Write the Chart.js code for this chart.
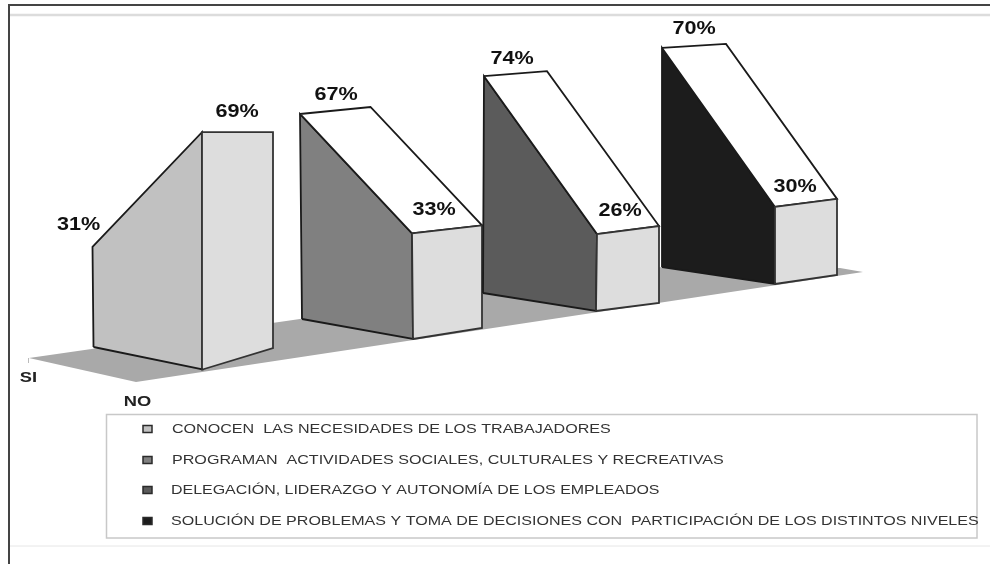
<!DOCTYPE html>
<html><head><meta charset="utf-8">
<style>html,body{margin:0;padding:0;background:#fff}#w{position:relative;width:990px;height:564px}canvas{display:block}</style>
<script src="https://cdn.jsdelivr.net/npm/chart.js@4/dist/chart.umd.min.js"></script>
</head><body><div id="w"><canvas id="c" width="990" height="564"></canvas></div>
<script>
// ---- data ----
const categories = [
  "CONOCEN  LAS NECESIDADES DE LOS TRABAJADORES",
  "PROGRAMAN  ACTIVIDADES SOCIALES, CULTURALES Y RECREATIVAS",
  "DELEGACIÓN, LIDERAZGO Y AUTONOMÍA DE LOS EMPLEADOS",
  "SOLUCIÓN DE PROBLEMAS Y TOMA DE DECISIONES CON  PARTICIPACIÓN DE LOS DISTINTOS NIVELES"
];
const depthLabels = ["SI", "NO"];
const si = [31, 67, 74, 70];
const no = [69, 33, 26, 30];

// ---- styles ----
const sideColors = ["#c1c1c1", "#808080", "#5b5b5b", "#1c1c1c"];
const frontColor = "#dddddd", topColor = "#ffffff", floorColor = "#a9a9a9";

// ---- projection of the 3-D scene on the page plane ----
const view = {
  catX: [93.5, 302, 483, 662], catY: [347, 319, 293, 267],
  depth: [[109,22.5],[111,20],[113,18],[113,17]],
  baseWidth: [[70.5,-21.5],[69,-11],[63,-8],[62,-9]],
  topFrontWidth: [[71,0],[70,-8],[62,-8],[62,-8]],
  topBackWidth: [[71,0],[70.5,-7],[63,-5],[64,-4]],
  unitSi: [3.23,3.06,2.93,3.13], unitNo: [3.44,3.2,2.96,2.57],
  leanSi: [-1,-2,1,0], leanNo: [-0.5,-1,1,0],
  floorCorners: [[29,358],[300,319],[662,267],[840,268],[863,272],[136,382]]
};
const pt = (a) => ({x:a[0], y:a[1]});
function prism(i){
  const A=[view.catX[i],view.catY[i]];
  const B=[A[0]+view.depth[i][0],A[1]+view.depth[i][1]];
  const C=[B[0]+view.baseWidth[i][0],B[1]+view.baseWidth[i][1]];
  const At=[A[0]+view.leanSi[i],A[1]-si[i]*view.unitSi[i]];
  const Bt=[B[0]+view.leanNo[i],B[1]-no[i]*view.unitNo[i]];
  const Ct=[Bt[0]+view.topFrontWidth[i][0],Bt[1]+view.topFrontWidth[i][1]];
  const Dt=[At[0]+view.topBackWidth[i][0],At[1]+view.topBackWidth[i][1]];
  return {A,B,C,At,Bt,Ct,Dt};
}
function face(label,poly,fill,line){
  const d=poly.concat([poly[0]]).map(pt);
  return {label,data:d,showLine:true,fill:'shape',backgroundColor:fill,borderColor:line,borderWidth:line==='transparent'?0:1.8,
          pointRadius:0,pointHoverRadius:0,tension:0,borderJoinStyle:'miter'};
}
const datasets=[face("piso",view.floorCorners,floorColor,'transparent')];
categories.forEach((c,i)=>{
  const p=prism(i);
  datasets.push(face(c+" lateral",[p.A,p.At,p.Bt,p.B],sideColors[i],"#1a1a1a"));
  if(i>0) datasets.push(face(c+" superior",[p.At,p.Dt,p.Ct,p.Bt],topColor,"#1a1a1a"));
  datasets.push(face(c+" frente",[p.B,p.Bt,p.Ct,p.C],frontColor,"#333333"));
});
datasets.forEach((d,k)=>{d.order=datasets.length-k;});

function stretched(ctx,text,x,y,font,sx,color,align){
  ctx.save();ctx.font=font;ctx.fillStyle=color;ctx.textBaseline='middle';ctx.textAlign=align||'left';
  ctx.translate(x,y);ctx.scale(sx,1);ctx.fillText(text,0,0);ctx.restore();
}
const labelOffsetsSi=[[-14,-22],[36,-18.5],[28,-17.5],[32,-18.5]];
const labelOffsetsNo=[[35,-20],[22,-23.5],[23,-23],[20,-19.5]];
const scenePlugin={id:'scene',
  beforeDatasetsDraw(chart){
    const {ctx,scales:{x,y}}=chart;
    const X=v=>x.getPixelForValue(v),Y=v=>y.getPixelForValue(v);
    ctx.save();
    ctx.strokeStyle='#dcdcdc';ctx.lineWidth=2.5;
    ctx.beginPath();ctx.moveTo(X(10),Y(15));ctx.lineTo(X(990),Y(15));ctx.stroke();
    ctx.lineWidth=1;ctx.strokeStyle='#e6e6e6';
    ctx.beginPath();ctx.moveTo(X(10),Y(546));ctx.lineTo(X(990),Y(546));ctx.stroke();
    ctx.strokeStyle='#444';ctx.lineWidth=2;
    ctx.beginPath();ctx.moveTo(X(9),Y(564));ctx.lineTo(X(9),Y(5));ctx.lineTo(X(990),Y(5));ctx.stroke();
    ctx.strokeStyle='#bbb';ctx.lineWidth=1;
    ctx.beginPath();ctx.moveTo(X(28.5),Y(358));ctx.lineTo(X(28.5),Y(363));ctx.stroke();
    ctx.restore();
  },
  afterDatasetsDraw(chart){
    const {ctx,scales:{x,y}}=chart;
    const pct='bold 18px "Liberation Sans"';
    categories.forEach((c,i)=>{
      const p=prism(i);
      const a=labelOffsetsSi[i],b=labelOffsetsNo[i];
      stretched(ctx,si[i]+"%",x.getPixelForValue(p.At[0]+a[0]),y.getPixelForValue(p.At[1]+a[1]),pct,1.2,"#111",'center');
      stretched(ctx,no[i]+"%",x.getPixelForValue(p.Bt[0]+b[0]),y.getPixelForValue(p.Bt[1]+b[1]),pct,1.2,"#111",'center');
    });
    const axis='bold 15px "Liberation Sans"';
    stretched(ctx,depthLabels[0],28.5,378,axis,1.22,"#222",'center');
    stretched(ctx,depthLabels[1],137.5,401.5,axis,1.22,"#222",'center');
    // legend
    ctx.save();ctx.strokeStyle='#c8c8c8';ctx.lineWidth=1.5;ctx.strokeRect(106.5,414.5,870.5,123.5);ctx.restore();
    const rows=[429,460,490,521], tx=[172,172,171,171];
    categories.forEach((c,i)=>{
      ctx.save();ctx.fillStyle=sideColors[i];ctx.strokeStyle='#2a2a2a';ctx.lineWidth=1.5;
      ctx.fillRect(143,rows[i]-3.5,9,7);ctx.strokeRect(143,rows[i]-3.5,9,7);ctx.restore();
      stretched(ctx,c,tx[i],rows[i],'13px "Liberation Sans"',legendScale[i],"#333");
    });
  }
};
const legendScale=[1.237,1.238,1.228,1.235];
new Chart(document.getElementById('c'),{
  type:'scatter',
  data:{datasets},
  options:{
    responsive:false,animation:false,
    layout:{padding:0},
    plugins:{legend:{display:false},tooltip:{enabled:false}},
    scales:{
      x:{type:'linear',min:0,max:990,display:false},
      y:{type:'linear',min:0,max:564,reverse:true,display:false}
    }
  },
  plugins:[scenePlugin]
});
</script></body></html>
